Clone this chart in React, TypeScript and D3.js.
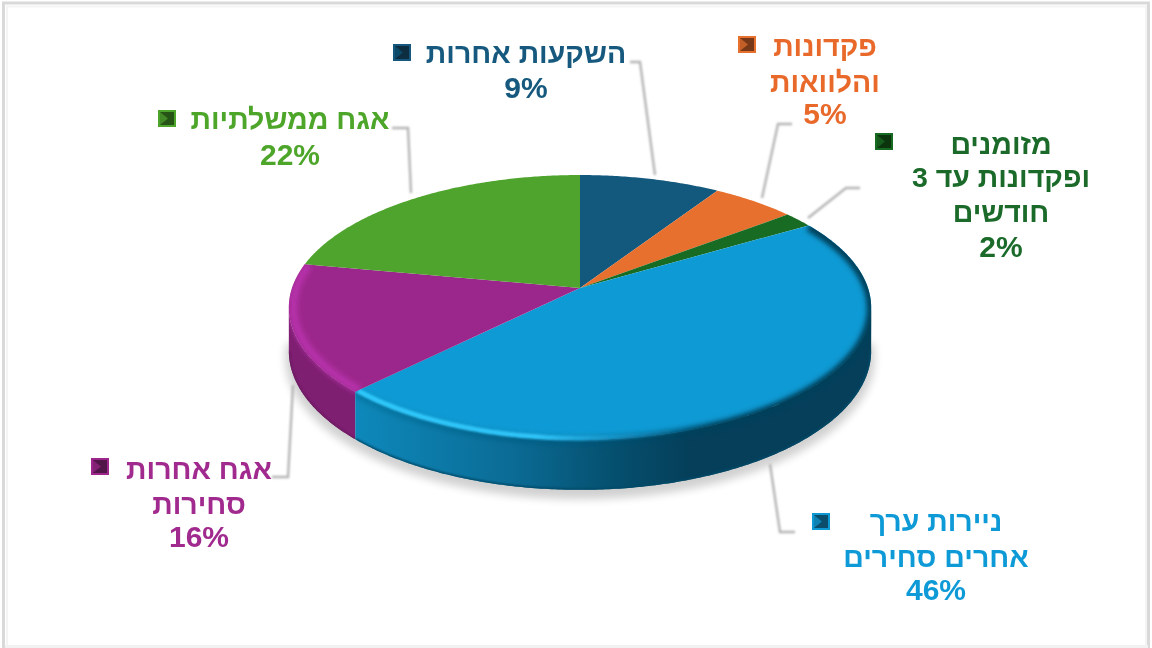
import React from "react";
import * as d3 from "d3";

// ---- data ----
const names = ["השקעות אחרות", "פקדונות והלוואות", "מזומנים ופקדונות עד 3 חודשים", "ניירות ערך אחרים סחירים", "אגח אחרות סחירות", "אגח ממשלתיות"];
const values = [9, 5.4, 1.9, 46, 15.7, 22];
const labelLines = [
  ["השקעות אחרות"],
  ["פקדונות", "והלוואות"],
  ["מזומנים", "ופקדונות עד 3", "חודשים"],
  ["ניירות ערך", "אחרים סחירים"],
  ["אגח אחרות", "סחירות"],
  ["אגח ממשלתיות"],
];
const colors = ["#13597d", "#e8702e", "#186b22", "#0e9ad4", "#9c278c", "#4ea42c"];
const textColors = ["#14597e", "#e8692a", "#1a6b2a", "#0f9ad6", "#a12a8e", "#4ea62c"];

// ---- layout ----
const W = 1152, H = 648;
const labelCx = [526, 825, 1001, 936, 199, 290];
const labelYs = [[54, 88], [47, 83, 114], [145, 178, 213, 247], [522, 558, 590], [470, 505, 537], [120, 155]];
const keyPos = [[393, 44], [738, 36], [875, 133], [812, 513], [91, 458], [158, 110]];
const leaders = [
  [[630, 62], [640, 62], [655, 175]],
  [[792, 124], [778, 124], [762, 198]],
  [[860, 188], [846, 188], [808, 218]],
  [[795, 532], [780, 532], [770, 464]],
  [[272, 477], [288, 477], [293, 385]],
  [[392, 128], [408, 128], [411, 193]],
];

// perspective disc
const X0 = 580, Y0 = 288, A = 288, B = 129.6, K = 0.147, D = 42.6;
const proj = (a: number, depth = 0, r = 1): [number, number] => {
  const u = r * Math.sin(a), v = r * Math.cos(a), d = 1 + K * v;
  return [X0 + (A * u) / d, Y0 - (B * v) / d + (depth * D) / d];
};
const arcPts = (a0: number, a1: number, depth = 0, r = 1) => {
  const n = Math.max(2, Math.ceil(Math.abs(a1 - a0) / 0.01));
  return d3.range(n + 1).map((i) => proj(a0 + ((a1 - a0) * i) / n, depth, r));
};
const line = d3.line();
const silR = Math.acos(-K), silL = 2 * Math.PI - silR;

const arcs = d3.pie<number>().sort(null).startAngle(0).endAngle(2 * Math.PI)(values);

const wedge = (a0: number, a1: number) => line([[X0, Y0], ...arcPts(a0, a1)]) + "Z";
const rim = (a0: number, a1: number) =>
  line([...arcPts(a0, a1), ...arcPts(a1, a0, 1)]) + "Z";

const Key = ({ x, y, c }: { x: number; y: number; c: string }) => {
  const dark = d3.color(c)!.darker(1.9).formatHex();
  const mid = d3.color(c)!.darker(0.5).formatHex();
  return (
    <g filter="url(#keyblur)">
      <rect x={x} y={y} width={18} height={17} fill={c} />
      <rect x={x + 2} y={y + 2} width={14} height={13} fill={dark} />
      <path d={line([[x + 2, y + 2], [x + 10, y + 8.5], [x + 2, y + 15]])! + "Z"} fill={mid} />
    </g>
  );
};

export default function App() {
  const blueArc = arcs[3];
  const purpleArc = arcs[4];
  return (
    <svg width={W} height={H} style={{ position: "fixed", left: 0, top: 0, background: "#fff" }}
      fontFamily="'Liberation Sans', Arial, sans-serif">
      <defs>
        <filter id="soft" x="-20%" y="-20%" width="140%" height="140%"><feGaussianBlur stdDeviation="0.75" /></filter>
        <filter id="keyblur" x="-30%" y="-30%" width="160%" height="160%"><feGaussianBlur stdDeviation="0.7" /></filter>
        <filter id="b1" x="-10%" y="-10%" width="120%" height="120%"><feGaussianBlur stdDeviation="0.8" /></filter>
        <filter id="b2" x="-10%" y="-10%" width="120%" height="120%"><feGaussianBlur stdDeviation="1.3" /></filter>
        <filter id="b3" x="-10%" y="-10%" width="120%" height="120%"><feGaussianBlur stdDeviation="2.6" /></filter>
        <filter id="b5" x="-10%" y="-10%" width="120%" height="130%"><feGaussianBlur stdDeviation="4" /></filter>
        <linearGradient id="blueRim" gradientUnits="userSpaceOnUse" x1="357" x2="868" y1="0" y2="0">
          <stop offset="0" stopColor="#0d88ba" />
          <stop offset="0.3" stopColor="#0b6c96" />
          <stop offset="0.5" stopColor="#05506f" />
          <stop offset="0.65" stopColor="#053f5a" />
          <stop offset="1" stopColor="#053f5a" />
        </linearGradient>
        <linearGradient id="blueGlow" gradientUnits="userSpaceOnUse" x1="357" x2="868" y1="0" y2="0">
          <stop offset="0" stopColor="#2fc8fb" stopOpacity="1" />
          <stop offset="0.35" stopColor="#2fc4f8" stopOpacity="1" />
          <stop offset="0.55" stopColor="#1fa9e2" stopOpacity="0.4" />
          <stop offset="0.7" stopColor="#0e9ad4" stopOpacity="0" />
        </linearGradient>
        <linearGradient id="blueDark" gradientUnits="userSpaceOnUse" x1="357" x2="868" y1="0" y2="0">
          <stop offset="0" stopColor="#0b6c96" stopOpacity="0.5" />
          <stop offset="0.4" stopColor="#075a80" stopOpacity="0.8" />
          <stop offset="0.65" stopColor="#053f5a" stopOpacity="1" />
          <stop offset="1" stopColor="#053f5a" stopOpacity="1" />
        </linearGradient>
      </defs>

      {/* frame */}
      <path d="M3.5 648V3H1148.5V648" fill="none" stroke="#d9d9d9" strokeWidth={3} />
      <path d="M7 648V6.5H1146V648" fill="none" stroke="#f4f4f4" strokeWidth={2} />
      <rect x={5} y={645} width={1143} height={3} fill="#f2f2f2" />

      {/* ground shadow */}
      <path d={line(arcPts(silR - 0.1, silL + 0.1, 1.14, 1.012))! + "Z"} fill="#000" opacity={0.18} filter="url(#b5)" />

      {/* leaders */}
      <g filter="url(#b1)">
        {leaders.map((l, i) => (
          <path key={i} d={line(l as [number, number][])!} fill="none" stroke="#b4b4b4" strokeWidth={2.4} />
        ))}
      </g>

      {/* rim */}
      <path d={rim(blueArc.endAngle, silL)} fill="#7f1f72" />
      <path d={rim(silR, blueArc.endAngle)} fill="url(#blueRim)" />

      {/* top */}
      {arcs.map((s, i) => (
        <path key={i} d={wedge(s.startAngle, s.endAngle)} fill={colors[i]} />
      ))}

      {/* bevels */}
      <clipPath id="clipBlue"><path d={wedge(blueArc.startAngle, blueArc.endAngle) + rim(silR, blueArc.endAngle)} /></clipPath>
      <clipPath id="clipPurple"><path d={wedge(purpleArc.startAngle, purpleArc.endAngle) + rim(blueArc.endAngle, silL)} /></clipPath>
      <g clipPath="url(#clipBlue)">
        <path d={line(arcPts(blueArc.startAngle, blueArc.endAngle, 0.03))!} fill="none" stroke="url(#blueDark)" strokeWidth={9} filter="url(#b3)" />
        <path d={line(arcPts(silR, blueArc.endAngle, 0, 0.99))!} fill="none" stroke="url(#blueGlow)" strokeWidth={5} filter="url(#b2)" />
        <path d={line(arcPts(silR, blueArc.endAngle, 1))!} fill="none" stroke="#034a68" strokeWidth={3} filter="url(#b1)" />
      </g>
      <g clipPath="url(#clipPurple)">
        <path d={line(arcPts(blueArc.endAngle, purpleArc.endAngle, 0, 0.985))!} fill="none" stroke="#b632aa" strokeWidth={8} filter="url(#b3)" />
        <path d={line(arcPts(blueArc.endAngle, silL, 1))!} fill="none" stroke="#6a1a60" strokeWidth={3} filter="url(#b1)" />
      </g>

      {/* labels */}
      {labelLines.map((ls, i) => (
        <g key={i} fill={textColors[i]} textAnchor="middle" fontWeight={700} filter="url(#soft)">
          {ls.map((t, j) => (
            <text key={j} x={labelCx[i]} y={labelYs[i][j] + 9} direction="rtl" fontSize={28.5}>{t}</text>
          ))}
          <text x={labelCx[i]} y={labelYs[i][ls.length] + 10} direction="ltr" fontSize={30}>{Math.round(values[i])}%</text>
        </g>
      ))}

      {/* legend keys */}
      {names.map((n, i) => (
        <Key key={n} x={keyPos[i][0]} y={keyPos[i][1]} c={colors[i]} />
      ))}
    </svg>
  );
}
